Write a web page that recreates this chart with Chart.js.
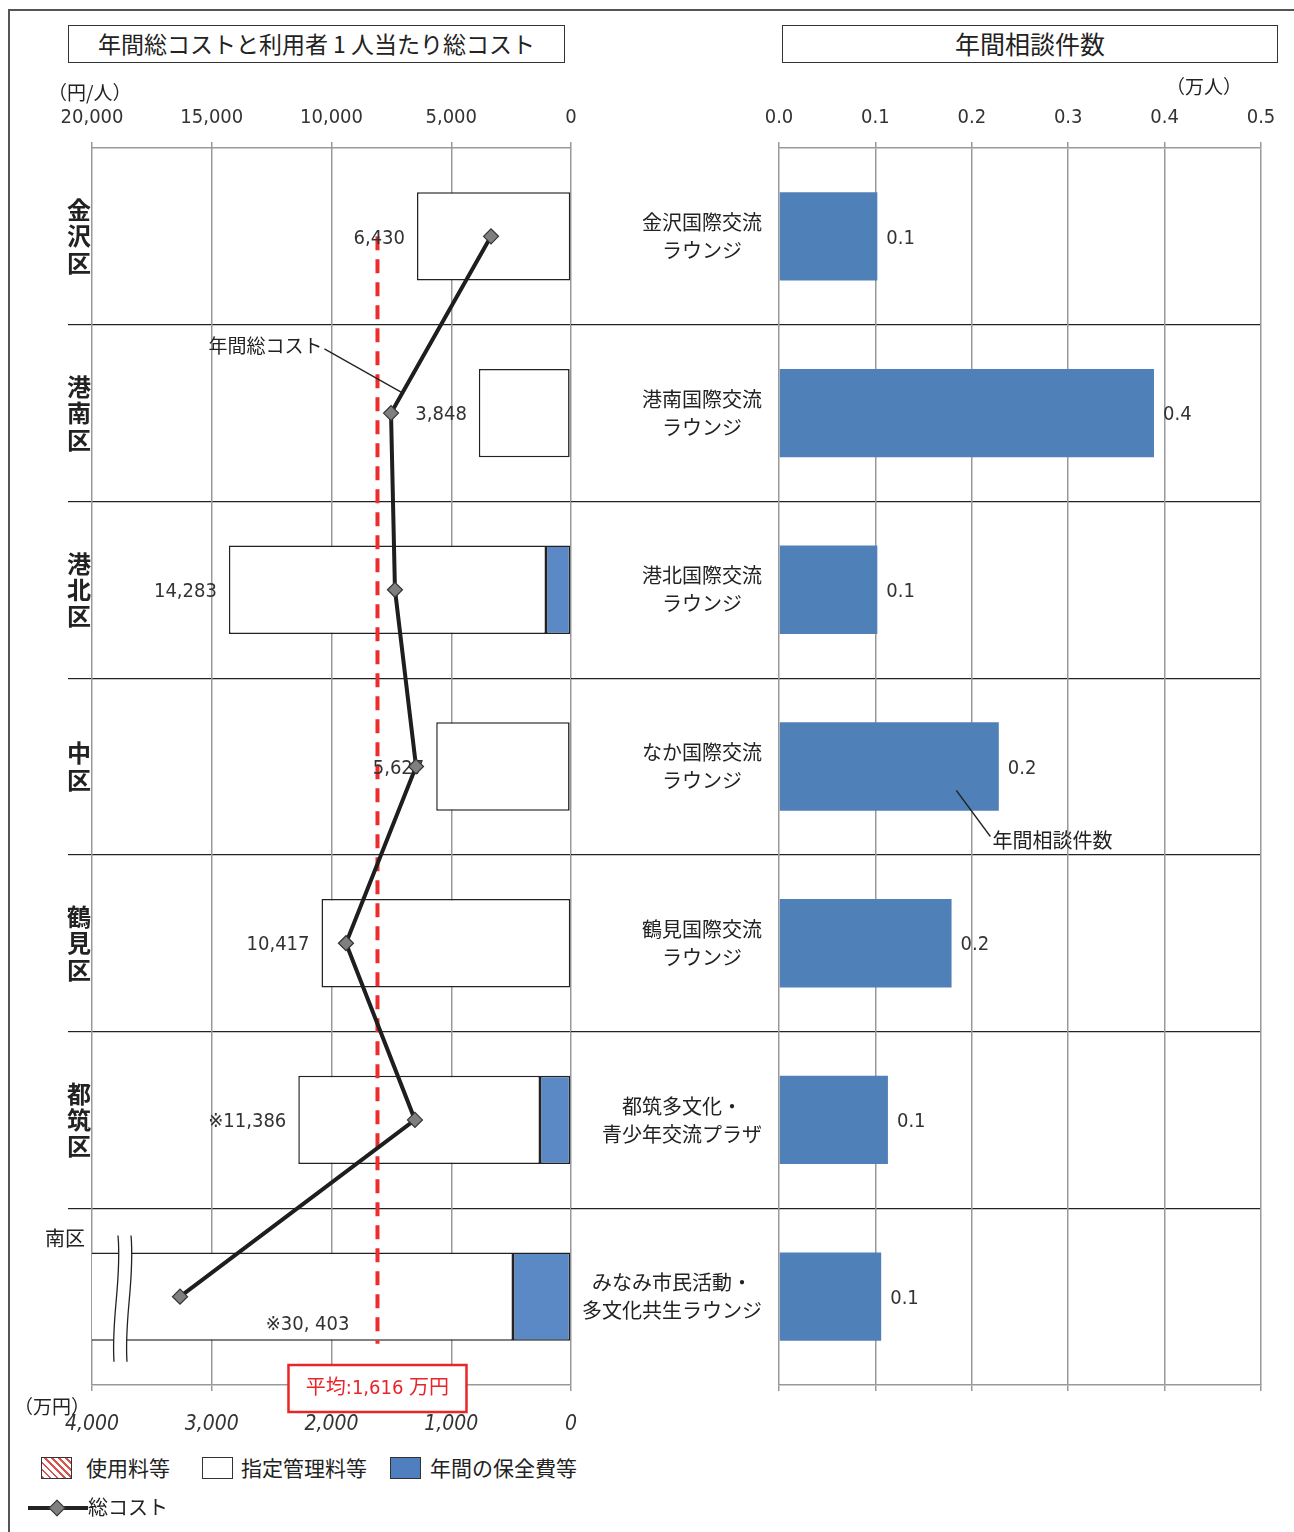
<!DOCTYPE html>
<html lang="ja">
<head>
  <meta charset="UTF-8">
  <title>年間総コストと年間相談件数</title>
  <script src="https://cdn.jsdelivr.net/npm/chart.js"></script>
  <style>
    * { box-sizing: border-box; margin: 0; padding: 0; }
    body {
      width: 1294px; height: 1532px; position: relative; overflow: hidden;
      background: #fff; color: #222;
      font-family: 'Noto Sans CJK JP', sans-serif;
    }
    .frame { position: absolute; left: 8px; top: 9px; width: 1300px; height: 1540px; border: 2px solid #555; }
    .wrap { position: absolute; top: 0; height: 1450px; }
    #leftWrap { left: 0; width: 600px; }
    #rightWrap { left: 571px; width: 723px; }
    .title {
      position: absolute; top: 25px; height: 38px; border: 1.5px solid #333;
      text-align: center; line-height: 35px; background: #fff;
    }
    .unit { position: absolute; font-size: 19px; line-height: 22px; }
    .lg-box { position: absolute; width: 31px; height: 22px; border: 1.5px solid #333; }
    .lg-text { position: absolute; font-size: 21px; line-height: 28px; }
    .hatch { background: repeating-linear-gradient(45deg, #d8534f 0 2px, #fff 2px 5px); }
  </style>
</head>
<body>
  <div class="frame"></div>
  <div class="wrap" id="leftWrap"><canvas id="costChart"></canvas></div>
  <div class="wrap" id="rightWrap"><canvas id="consultChart"></canvas></div>

  <div class="title" style="left:68px;width:497px;font-size:23px;">年間総コストと利用者 1 人当たり総コスト</div>
  <div class="title" style="left:782px;width:496px;font-size:25px;">年間相談件数</div>
  <div class="unit" style="left:48px;top:81px;">（円/人）</div>
  <div class="unit" style="left:1166px;top:75px;">（万人）</div>
  <div class="unit" style="left:14px;top:1395px;">（万円）</div>
  <div style="position:absolute;left:45px;top:1225px;font-size:20px;line-height:26px;">南区</div>

  <div class="lg-box hatch" style="left:41px;top:1457px;"></div>
  <div class="lg-text" style="left:86px;top:1453px;">使用料等</div>
  <div class="lg-box" style="left:202px;top:1457px;background:#fff;"></div>
  <div class="lg-text" style="left:241px;top:1453px;">指定管理料等</div>
  <div class="lg-box" style="left:390px;top:1457px;background:#4f7fbf;"></div>
  <div class="lg-text" style="left:430px;top:1453px;">年間の保全費等</div>
  <div style="position:absolute;left:28px;top:1506px;width:60px;height:4px;background:#222;"></div>
  <div style="position:absolute;left:51px;top:1502px;width:12px;height:12px;background:#7f7f7f;border:1px solid #333;transform:rotate(45deg);"></div>
  <div class="lg-text" style="left:88px;top:1493px;font-size:20px;">総コスト</div>

  <script>
    const NUM_FONT = "'Liberation Sans Narrow', 'DejaVu Sans Condensed', 'Liberation Sans', sans-serif";
    const CJK_FONT = "'Noto Sans CJK JP', sans-serif";
    const MIX_FONT = "'Liberation Sans Narrow', 'DejaVu Sans Condensed', 'Noto Sans CJK JP', sans-serif";

    // left panel: annual total cost (万円) and cost per user (円/人)
    const districts = ['金沢区', '港南区', '港北区', '中区', '鶴見区', '都筑区', '南区'];
    const annualCost = [668, 1503, 1470, 1294, 1879, 1303, 3265];
    const usageFee = [0, 0, 0, 0, 0, 0, 0];
    const maintenance = [0, 60, 1044, 60, 0, 1294, 2422];
    const managementFee = [6430, 3788, 13239, 5567, 10417, 10092, 27981];
    const perPersonLabels = ['6,430', '3,848', '14,283', '5,627', '10,417', '※11,386', '※30, 403'];
    const averageCost = 1616;

    // right panel: annual consultations (万人)
    const lounges = [
      ['金沢国際交流', 'ラウンジ'],
      ['港南国際交流', 'ラウンジ'],
      ['港北国際交流', 'ラウンジ'],
      ['なか国際交流', 'ラウンジ'],
      ['鶴見国際交流', 'ラウンジ'],
      ['都筑多文化・', '青少年交流プラザ'],
      ['みなみ市民活動・', '多文化共生ラウンジ']
    ];
    const consultations = [0.102, 0.389, 0.102, 0.228, 0.179, 0.113, 0.106];

    Chart.defaults.font.family = NUM_FONT;
    Chart.defaults.color = '#333';

    // hide the outermost category separators
    const innerLine = (color) => (c) => (c.type === 'tick' && c.index > 0) ? color : 'rgba(0,0,0,0)';

    const costDecor = {
      id: 'costDecor',
      beforeDatasetDraw(chart, args) {
        if (args.index !== 0) return;
        const { ctx, scales } = chart;
        const bars = chart.getDatasetMeta(3).data;
        const first = bars[0], last = bars[bars.length - 1];
        const ax = scales.x.getPixelForValue(averageCost);

        ctx.save();
        ctx.strokeStyle = '#ee2c2c';
        ctx.lineWidth = 4;
        ctx.setLineDash([14, 9]);
        ctx.beginPath();
        ctx.moveTo(ax, first.y);
        ctx.lineTo(ax, last.y + last.height / 2 + 3);
        ctx.stroke();
        ctx.restore();

        ctx.save();
        ctx.font = '20px ' + MIX_FONT;
        ctx.fillStyle = '#333';
        ctx.textBaseline = 'middle';
        bars.forEach((bar, i) => {
          const total = usageFee[i] + maintenance[i] + managementFee[i];
          if (total > scales.xt.max) {
            ctx.textAlign = 'center';
            ctx.fillText(perPersonLabels[i], scales.xt.getPixelForValue(scales.xt.max * 0.55), bar.y + 28);
          } else {
            ctx.textAlign = 'right';
            ctx.fillText(perPersonLabels[i], bar.x - 12, bar.y + 2);
          }
        });
        ctx.restore();
      },
      afterDraw(chart) {
        const { ctx, chartArea, scales } = chart;
        const bars = chart.getDatasetMeta(3).data;
        const last = bars[bars.length - 1];

        // axis break on the 南区 bar
        const top = last.y - last.height / 2 - 17;
        const bottom = last.y + last.height / 2 + 21;
        const h = bottom - top;
        const bx = chartArea.left + 24;
        const curve = (x0, down) => {
          if (down) {
            ctx.moveTo(x0 + 2, top);
            ctx.bezierCurveTo(x0 + 6, top + h * 0.35, x0 - 5, top + h * 0.65, x0 - 2, bottom);
          } else {
            ctx.lineTo(x0 - 2, bottom);
            ctx.bezierCurveTo(x0 - 5, top + h * 0.65, x0 + 6, top + h * 0.35, x0 + 2, top);
          }
        };
        ctx.save();
        ctx.beginPath();
        curve(bx, true);
        curve(bx + 13, false);
        ctx.closePath();
        ctx.fillStyle = '#fff';
        ctx.fill();
        ctx.strokeStyle = '#222';
        ctx.lineWidth = 1.3;
        ctx.beginPath();
        curve(bx, true);
        ctx.stroke();
        ctx.beginPath();
        curve(bx + 13, true);
        ctx.stroke();

        // callout for the total cost line
        const pts = chart.getDatasetMeta(0).data;
        const t = 0.886;
        const px = pts[0].x + (pts[1].x - pts[0].x) * t;
        const py = pts[0].y + (pts[1].y - pts[0].y) * t;
        ctx.beginPath();
        ctx.moveTo(px, py);
        ctx.lineTo(px - 78, py - 44);
        ctx.stroke();
        ctx.font = '19px ' + CJK_FONT;
        ctx.fillStyle = '#222';
        ctx.textAlign = 'right';
        ctx.textBaseline = 'middle';
        ctx.fillText('年間総コスト', px - 80, py - 47);

        // average box
        const ax = scales.x.getPixelForValue(averageCost);
        const cy = chartArea.bottom + 3;
        ctx.fillStyle = '#fff';
        ctx.fillRect(ax - 89, cy - 23, 178, 47);
        ctx.strokeStyle = '#e8262a';
        ctx.lineWidth = 2.5;
        ctx.strokeRect(ax - 89, cy - 23, 178, 47);
        ctx.fillStyle = '#e8262a';
        ctx.font = '20px ' + MIX_FONT;
        ctx.textAlign = 'center';
        ctx.fillText('平均:' + averageCost.toLocaleString('en-US') + ' 万円', ax, cy + 1);
        ctx.restore();
      }
    };

    new Chart(document.getElementById('costChart'), {
      type: 'bar',
      data: {
        labels: districts,
        datasets: [
          {
            type: 'line', label: '総コスト', data: annualCost, xAxisID: 'x', order: 0,
            borderColor: '#1e1e1e', borderWidth: 4, tension: 0,
            pointStyle: 'rectRot', pointRadius: 7.5,
            pointBackgroundColor: '#7f7f7f', pointBorderColor: '#333', pointBorderWidth: 1.2
          },
          { label: '使用料等', data: usageFee, xAxisID: 'xt', order: 1, backgroundColor: '#d8534f', borderWidth: 0 },
          {
            label: '年間の保全費等', data: maintenance, xAxisID: 'xt', order: 1,
            backgroundColor: '#5a89c6', borderColor: '#222', borderWidth: 1.5, borderSkipped: false
          },
          {
            label: '指定管理料等', data: managementFee, xAxisID: 'xt', order: 1,
            backgroundColor: '#fff', borderColor: '#222', borderWidth: 1.5, borderSkipped: false
          }
        ]
      },
      options: {
        indexAxis: 'y',
        responsive: true,
        maintainAspectRatio: false,
        animation: false,
        layout: { padding: { left: 0, right: 29, top: 0, bottom: 0 } },
        datasets: { bar: { barPercentage: 0.5, categoryPercentage: 1 } },
        plugins: { legend: { display: false }, tooltip: { enabled: false } },
        scales: {
          y: {
            stacked: true,
            offset: true,
            grid: { offset: true, tickLength: 24, lineWidth: 1.2, color: innerLine('#222') },
            border: { display: false },
            ticks: {
              autoSkip: false,
              padding: -23,
              color: '#222',
              font: { family: CJK_FONT, size: 24, weight: 'bold', lineHeight: 1.1 },
              callback: (v, i) => i === districts.length - 1 ? '' : districts[i].split('')
            },
            afterFit: (s) => { s.width = 92; }
          },
          xt: {
            type: 'linear', position: 'top', stacked: true, reverse: true, min: 0, max: 20000,
            ticks: { stepSize: 5000, padding: 12, font: { size: 20 }, callback: (v) => v.toLocaleString('en-US') },
            grid: { drawOnChartArea: false, tickLength: 6, color: '#999', lineWidth: 1.5 },
            border: { color: '#999', width: 1.5 },
            afterFit: (s) => { s.height = 148; }
          },
          x: {
            type: 'linear', position: 'bottom', reverse: true, min: 0, max: 4000,
            ticks: { stepSize: 1000, padding: 21, font: { size: 21, style: 'italic' }, callback: (v) => v.toLocaleString('en-US') },
            grid: { tickLength: 6, color: '#999', lineWidth: 1.5 },
            border: { color: '#999', width: 1.5 },
            afterFit: (s) => { s.height = 65; }
          }
        }
      },
      plugins: [costDecor]
    });

    const consultDecor = {
      id: 'consultDecor',
      afterDraw(chart) {
        const { ctx, chartArea, scales } = chart;
        const bars = chart.getDatasetMeta(0).data;
        ctx.save();
        ctx.fillStyle = '#222';
        ctx.textBaseline = 'middle';
        ctx.textAlign = 'center';
        ctx.font = '20px ' + CJK_FONT;
        const right = chartArea.left - 17;
        lounges.forEach((lines, i) => {
          const y = scales.y.getPixelForValue(i);
          const w = Math.max(...lines.map((s) => ctx.measureText(s).width));
          lines.forEach((s, j) => {
            ctx.fillText(s, right - w / 2, y + (j - (lines.length - 1) / 2) * 28);
          });
        });

        ctx.font = '20px ' + NUM_FONT;
        ctx.fillStyle = '#333';
        ctx.textAlign = 'left';
        bars.forEach((bar, i) => ctx.fillText(consultations[i].toFixed(1), bar.x + 9, bar.y + 2));

        // callout on the なか bar
        const nb = bars[3];
        const sx = scales.x.getPixelForValue(0.184);
        const sy = nb.y + 24;
        ctx.strokeStyle = '#222';
        ctx.lineWidth = 1.3;
        ctx.beginPath();
        ctx.moveTo(sx, sy);
        ctx.lineTo(sx + 34, sy + 46);
        ctx.stroke();
        ctx.font = '20px ' + CJK_FONT;
        ctx.fillStyle = '#222';
        ctx.fillText('年間相談件数', sx + 36, sy + 50);
        ctx.restore();
      }
    };

    new Chart(document.getElementById('consultChart'), {
      type: 'bar',
      data: {
        labels: lounges.map((l) => l.join('')),
        datasets: [{
          label: '年間相談件数', data: consultations,
          backgroundColor: '#5080b8', barPercentage: 0.5, categoryPercentage: 1
        }]
      },
      options: {
        indexAxis: 'y',
        responsive: true,
        maintainAspectRatio: false,
        animation: false,
        layout: { padding: { left: 0, right: 33, top: 0, bottom: 0 } },
        plugins: { legend: { display: false }, tooltip: { enabled: false } },
        scales: {
          y: {
            offset: true,
            grid: { offset: true, tickLength: 208, lineWidth: 1.2, color: innerLine('#222') },
            border: { display: false },
            ticks: { display: false, autoSkip: false },
            afterFit: (s) => { s.width = 208; }
          },
          x: {
            type: 'linear', position: 'top', min: 0, max: 0.5,
            ticks: { stepSize: 0.1, padding: 12, font: { size: 20 }, callback: (v) => v.toFixed(1) },
            grid: { tickLength: 6, color: '#999', lineWidth: 1.5 },
            border: { color: '#999', width: 1.5 },
            afterFit: (s) => { s.height = 148; }
          },
          xb: {
            type: 'linear', position: 'bottom', min: 0, max: 0.5,
            ticks: { display: false, stepSize: 0.1 },
            grid: { drawOnChartArea: false, tickLength: 6, color: '#999', lineWidth: 1.5 },
            border: { color: '#999', width: 1.5 },
            afterFit: (s) => { s.height = 65; }
          }
        }
      },
      plugins: [consultDecor]
    });
  </script>
</body>
</html>
